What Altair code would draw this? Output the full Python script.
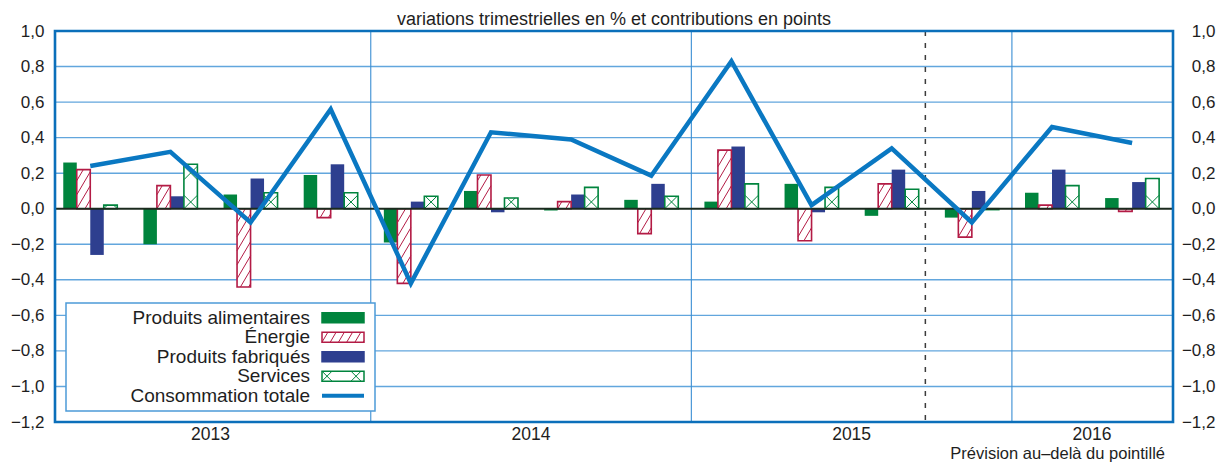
import math
import altair as alt
import pandas as pd

# ---------------- data ----------------
years = ["2013", "2014", "2015", "2016"]
quarters_per_year = [4, 4, 4, 2]
series_names = ["Produits alimentaires", "Énergie", "Produits fabriqués", "Services"]
total_name = "Consommation totale"
alimentaires = [0.26, -0.20, 0.08, 0.19, -0.19, 0.10, -0.01, 0.05, 0.04, 0.14, -0.04, -0.05, 0.09, 0.06]
energie = [0.22, 0.13, -0.44, -0.05, -0.42, 0.19, 0.04, -0.14, 0.33, -0.18, 0.14, -0.16, 0.02, -0.015]
fabriques = [-0.26, 0.07, 0.17, 0.25, 0.04, -0.02, 0.08, 0.14, 0.35, -0.02, 0.22, 0.10, 0.22, 0.15]
services = [0.02, 0.25, 0.09, 0.09, 0.07, 0.06, 0.12, 0.07, 0.14, 0.12, 0.11, -0.005, 0.13, 0.17]
total = [0.24, 0.32, -0.077, 0.56, -0.42, 0.43, 0.39, 0.186, 0.83, 0.02, 0.34, -0.077, 0.46, 0.37]
y_ticks = [-1.2, -1.0, -0.8, -0.6, -0.4, -0.2, 0.0, 0.2, 0.4, 0.6, 0.8, 1.0]
grid_values = [-1.0, -0.8, -0.6, -0.4, -0.2, 0.2, 0.4, 0.6, 0.8]
forecast_position = 10.42
title_text = "variations trimestrielles en % et contributions en points"
note_text = "Prévision au\u2013delà du pointillé"

# ---------------- layout / style ----------------
W, H = 1118, 391
PAD = {"left": 47, "top": 23, "right": 43, "bottom": 40}
X_DOM = [-0.44, 13.51]
Y_DOM = [-1.2, 1.0]
PXX = W / (X_DOM[1] - X_DOM[0])
PXY = H / (Y_DOM[1] - Y_DOM[0])
BAR_PX = 13.5
BW = BAR_PX / PXX

GREEN = "#00843D"
RED = "#B31B45"
BLUE_BAR = "#2E3F8F"
LINE_BLUE = "#0A78C2"
FRAME = "#0B6FBA"
GRID = "#62A6DD"
YEARLINE = "#3A8ED3"
TEXT = "#1E1E1E"
FONT = "Liberation Sans"

xs = alt.Scale(domain=X_DOM, nice=False, zero=False)
ys = alt.Scale(domain=Y_DOM, nice=False, zero=False)


def hatch(w, y0, y1, slope, period, phase, anchor):
    """segments (px, y up) of lines y = slope*(x-anchor) + k*period + phase clipped to [0,w]x[y0,y1]"""
    segs = []
    reach = abs(slope) * (w + abs(anchor))
    kmin = math.floor((y0 - phase - reach) / period) - 1
    kmax = math.ceil((y1 - phase + reach) / period) + 1
    for k in range(kmin, kmax + 1):
        c = k * period + phase - slope * anchor
        xa, xb = (y0 - c) / slope, (y1 - c) / slope
        lo, hi = max(0.0, min(xa, xb)), min(w, max(xa, xb))
        if hi - lo > 0.3:
            segs.append((lo, slope * lo + c, hi, slope * hi + c))
    return segs


def pattern_segments(name, w, y0, y1):
    if name == "Énergie":
        return hatch(w, y0, y1, 1.7, 14.0, 0.0, 0.0)
    half = w / 2 if w < 20 else 5.0
    return (hatch(w, y0, y1, 1.0, 29.0, half, half)
            + hatch(w, y0, y1, -1.0, 29.0, half, half))


# ---------------- tables ----------------
values = dict(zip(series_names, [alimentaires, energie, fabriques, services]))
bar_rows, hatch_rows = [], []
for k, name in enumerate(series_names):
    for i, v in enumerate(values[name]):
        x0 = i + (k - 2) * BW
        bar_rows.append({"serie": name, "x0": x0, "x1": x0 + BW, "v": v, "base": 0.0})
        if name in ("Énergie", "Services"):
            for (a, b, c, d) in pattern_segments(name, BAR_PX, min(0, v) * PXY, max(0, v) * PXY):
                hatch_rows.append({"serie": name, "hx0": x0 + a / PXX, "hy0": b / PXY,
                                   "hx1": x0 + c / PXX, "hy1": d / PXY})
bars = pd.DataFrame(bar_rows)
hatches = pd.DataFrame(hatch_rows)
line_df = pd.DataFrame({"i": list(range(len(total))), "total": total})

year_rows, bounds, idx = [], [], 0
for y, n in zip(years, quarters_per_year):
    year_rows.append({"year": y, "mid": idx + (n - 1) / 2})
    if idx > 0:
        bounds.append(idx - 0.5)
    idx += n
year_df = pd.DataFrame(year_rows)
bound_df = pd.DataFrame({"b": bounds})
grid_df = pd.DataFrame({"y": grid_values})
zero_df = pd.DataFrame({"y": [0.0]})
fc_df = pd.DataFrame({"x": [forecast_position]})
one = pd.DataFrame({"a": [0]})

# legend (pixel layout)
LG_X0, LG_X1, LG_Y0, LG_Y1 = 11, 320, 272, 380
SYM_X0, SYM_W, SYM_H = 267, 42, 10
ROW0, ROW_STEP = 286.7, 19.5
legend_names = series_names + [total_name]
leg_df = pd.DataFrame({"name": legend_names,
                       "cy": [ROW0 + r * ROW_STEP for r in range(len(legend_names))]})
leg_sym = leg_df[leg_df["name"] != total_name].copy()
leg_sym["top"] = leg_sym["cy"] - SYM_H / 2
leg_sym["bot"] = leg_sym["cy"] + SYM_H / 2
lh_rows = []
for _, r in leg_sym.iterrows():
    if r["name"] in ("Énergie", "Services"):
        for (a, b, c, d) in pattern_segments(r["name"], SYM_W, 0, SYM_H):
            lh_rows.append({"serie": r["name"], "px0": SYM_X0 + a, "py0": r["bot"] - b,
                            "px1": SYM_X0 + c, "py1": r["bot"] - d})
leg_hatch = pd.DataFrame(lh_rows)
leg_line_y = float(leg_df.loc[leg_df["name"] == total_name, "cy"].iloc[0])

fill_scale = alt.Scale(domain=series_names, range=[GREEN, "white", BLUE_BAR, "white"])
stroke_scale = alt.Scale(domain=series_names, range=[GREEN, RED, BLUE_BAR, GREEN])

label_expr = "replace(format(datum.value, '.1f'), '.', ',')"
left_axis = alt.Axis(values=y_ticks, labelExpr=label_expr, orient="left", grid=False,
                     domain=False, ticks=False, tickSize=0, labelPadding=11,
                     labelFontSize=17, labelColor=TEXT, labelFont=FONT, title=None)
right_axis = alt.Axis(values=y_ticks, labelExpr=label_expr, orient="right", grid=False,
                      domain=False, ticks=False, tickSize=0, labelPadding=42, labelAlign="right",
                      labelFontSize=17, labelColor=TEXT, labelFont=FONT, title=None)

grid = alt.Chart(grid_df).mark_rule(color=GRID, strokeWidth=1.4).encode(
    y=alt.Y("y:Q", scale=ys, axis=left_axis))
year_lines = alt.Chart(bound_df).mark_rule(color=YEARLINE, strokeWidth=1.1).encode(
    x=alt.X("b:Q", scale=xs, axis=None))

solid = alt.Chart(bars).transform_filter(
    "datum.serie == 'Produits alimentaires' || datum.serie == 'Produits fabriqués'"
).mark_rect().encode(
    x=alt.X("x0:Q", scale=xs, axis=None), x2="x1:Q",
    y=alt.Y("v:Q", scale=ys, axis=None), y2="base:Q",
    fill=alt.Fill("serie:N", scale=fill_scale, legend=None))
hollow = alt.Chart(bars).transform_filter(
    "datum.serie == 'Énergie' || datum.serie == 'Services'"
).mark_rect(fill="white", strokeWidth=1.6).encode(
    x=alt.X("x0:Q", scale=xs, axis=None), x2="x1:Q",
    y=alt.Y("v:Q", scale=ys, axis=None), y2="base:Q",
    stroke=alt.Stroke("serie:N", scale=stroke_scale, legend=None))
hatch_layer = alt.Chart(hatches).mark_rule(strokeWidth=1).encode(
    x=alt.X("hx0:Q", scale=xs, axis=None), x2="hx1:Q",
    y=alt.Y("hy0:Q", scale=ys, axis=None), y2="hy1:Q",
    stroke=alt.Stroke("serie:N", scale=stroke_scale, legend=None))

zero = alt.Chart(zero_df).mark_rule(color="#1B2A1E", strokeWidth=2.2).encode(
    y=alt.Y("y:Q", scale=ys, axis=right_axis))
forecast = alt.Chart(fc_df).mark_rule(color="#3C3C3C", strokeWidth=1.5, strokeDash=[5, 7]).encode(
    x=alt.X("x:Q", scale=xs, axis=None))
line = alt.Chart(line_df).mark_line(color=LINE_BLUE, strokeWidth=4.5, strokeJoin="miter").encode(
    x=alt.X("i:Q", scale=xs, axis=None), y=alt.Y("total:Q", scale=ys, axis=None))

legend_box = alt.Chart(one).mark_rect(fill="white", stroke="#4C9BD8", strokeWidth=1.5).encode(
    x=alt.value(LG_X0), x2=alt.value(LG_X1), y=alt.value(LG_Y0), y2=alt.value(LG_Y1))
legend_solid = alt.Chart(leg_sym).mark_rect(strokeWidth=1.5).encode(
    x=alt.value(SYM_X0), x2=alt.value(SYM_X0 + SYM_W),
    y=alt.Y("top:Q", scale=None, axis=None), y2="bot:Q",
    fill=alt.Fill("name:N", scale=fill_scale, legend=None),
    stroke=alt.Stroke("name:N", scale=stroke_scale, legend=None))
legend_hatch = alt.Chart(leg_hatch).mark_rule(strokeWidth=1).encode(
    x=alt.X("px0:Q", scale=None, axis=None), x2="px1:Q",
    y=alt.Y("py0:Q", scale=None, axis=None), y2="py1:Q",
    stroke=alt.Stroke("serie:N", scale=stroke_scale, legend=None))
legend_line = alt.Chart(one).mark_rule(color=LINE_BLUE, strokeWidth=4).encode(
    x=alt.value(SYM_X0), x2=alt.value(SYM_X0 + SYM_W), y=alt.value(leg_line_y))
legend_text = alt.Chart(leg_df).mark_text(align="right", baseline="middle", fontSize=19,
                                          font=FONT, color=TEXT).encode(
    x=alt.value(255), y=alt.Y("cy:Q", scale=None, axis=None), text="name:N")

year_text = alt.Chart(year_df).mark_text(baseline="middle", fontSize=17.5, font=FONT, color=TEXT).encode(
    x=alt.X("mid:Q", scale=xs, axis=None), y=alt.value(403.5), text="year:N")
title = alt.Chart(one).mark_text(baseline="middle", fontSize=18, font=FONT, color=TEXT).encode(
    x=alt.value(W / 2), y=alt.value(-11), text=alt.value(title_text))
note = alt.Chart(one).mark_text(align="right", baseline="alphabetic", fontSize=16.5, font=FONT,
                                color=TEXT).encode(
    x=alt.value(1110), y=alt.value(427.5), text=alt.value(note_text))

frame = alt.Chart(one).mark_rect(filled=False, stroke=FRAME, strokeWidth=2.6).encode(
    x=alt.value(0), x2=alt.value(W), y=alt.value(0), y2=alt.value(H))

chart = alt.layer(
    grid, year_lines, solid, hollow, hatch_layer, zero, forecast, line,
    legend_box, legend_solid, legend_hatch, legend_line, legend_text,
    year_text, title, note, frame
).resolve_axis(y="independent").properties(
    width=W, height=H,
    autosize=alt.AutoSizeParams(type="none"),
    padding=PAD,
).configure_view(stroke=None).configure(font=FONT)

chart.save("out.html", embed_options={"renderer": "svg", "actions": False})
